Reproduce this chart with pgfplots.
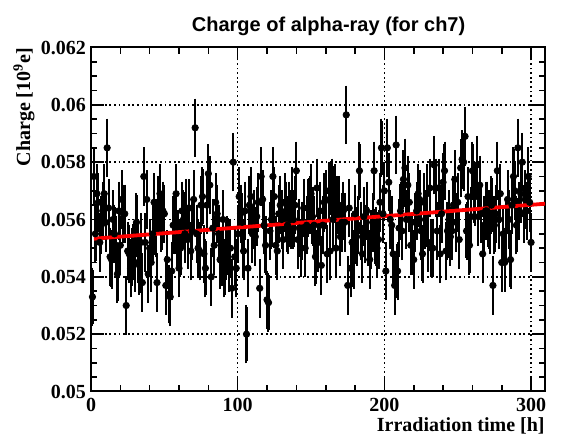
\documentclass[border=0pt]{standalone}
\usepackage{fontspec}
\setmainfont{Liberation Serif}
\newfontfamily\titlefont{Liberation Sans}
\usepackage{pgfplots}
\pgfplotsset{compat=1.18}
\usepackage{pgfplotstable}

% charge per hour of irradiation, ch7
\pgfplotstableread{
t q
1 0.0533
2 0.0575
3 0.0555
4 0.0569
5 0.0566
6 0.0552
7 0.0558
8 0.0563
9 0.0569
10 0.0559
11 0.0585
12 0.0564
13 0.0547
14 0.0546
15 0.0560
16 0.0555
17 0.0551
18 0.0541
19 0.0563
20 0.0551
21 0.0567
22 0.0562
23 0.0562
24 0.0530
25 0.0549
26 0.0548
27 0.0543
28 0.0547
29 0.0549
30 0.0545
31 0.0559
32 0.0548
33 0.0544
34 0.0552
35 0.0538
36 0.0575
37 0.0552
38 0.0567
39 0.0541
40 0.0550
41 0.0545
42 0.0555
43 0.0566
44 0.0557
45 0.0538
46 0.0565
47 0.0569
48 0.0559
49 0.0563
50 0.0562
51 0.0537
52 0.0546
53 0.0534
54 0.0533
55 0.0542
56 0.0558
57 0.0558
58 0.0569
59 0.0553
60 0.0543
61 0.0550
62 0.0563
63 0.0560
64 0.0555
65 0.0564
66 0.0553
67 0.0564
68 0.0549
69 0.0556
70 0.0567
71 0.0592
72 0.0555
73 0.0550
74 0.0549
75 0.0565
76 0.0568
77 0.0548
78 0.0543
79 0.0565
80 0.0576
81 0.0572
82 0.0540
83 0.0557
84 0.0551
85 0.0566
86 0.0562
87 0.0555
88 0.0546
89 0.0547
90 0.0560
91 0.0543
92 0.0549
93 0.0551
94 0.0545
95 0.0550
96 0.0536
97 0.0580
98 0.0547
99 0.0543
100 0.0555
101 0.0568
102 0.0562
103 0.0559
104 0.0549
105 0.0563
106 0.0520
107 0.0543
108 0.0565
109 0.0568
110 0.0555
111 0.0560
112 0.0554
113 0.0561
114 0.0566
115 0.0536
116 0.0575
117 0.0567
118 0.0558
119 0.0551
120 0.0532
121 0.0531
122 0.0556
123 0.0560
124 0.0575
125 0.0568
126 0.0551
127 0.0549
128 0.0562
129 0.0565
130 0.0560
131 0.0553
132 0.0566
133 0.0563
134 0.0558
135 0.0563
136 0.0560
137 0.0568
138 0.0560
139 0.0565
140 0.0577
141 0.0553
142 0.0557
143 0.0550
144 0.0556
145 0.0564
146 0.0550
147 0.0558
148 0.0564
149 0.0565
150 0.0569
151 0.0561
152 0.0558
153 0.0547
154 0.0571
155 0.0552
156 0.0563
157 0.0544
158 0.0558
159 0.0566
160 0.0567
161 0.0548
162 0.0570
163 0.0549
164 0.0571
165 0.0560
166 0.0569
167 0.0550
168 0.0565
169 0.0565
170 0.0554
171 0.0559
172 0.0563
173 0.0559
174 0.05965
175 0.0537
176 0.0564
177 0.0543
178 0.0552
179 0.0546
180 0.0562
181 0.0554
182 0.0558
183 0.0577
184 0.0556
185 0.0548
186 0.0561
187 0.0555
188 0.0563
189 0.0554
190 0.0546
191 0.0553
192 0.0559
193 0.0577
194 0.0554
195 0.0550
196 0.0553
197 0.0566
198 0.0585
199 0.0562
200 0.0570
201 0.0542
202 0.0585
203 0.0573
204 0.0560
205 0.0558
206 0.0548
207 0.0537
208 0.0586
209 0.0542
210 0.0557
211 0.0563
212 0.0556
213 0.0574
214 0.0578
215 0.0560
216 0.0572
217 0.0566
218 0.0551
219 0.0551
220 0.0546
221 0.0559
222 0.0563
223 0.0569
224 0.0567
225 0.0556
226 0.0548
227 0.0566
228 0.0560
229 0.0569
230 0.0552
231 0.0571
232 0.0550
233 0.0550
234 0.0579
235 0.0571
236 0.0556
237 0.0571
238 0.0548
239 0.0562
240 0.0573
241 0.0577
242 0.0549
243 0.0556
244 0.0560
245 0.0554
246 0.0556
247 0.0565
248 0.0574
249 0.0559
250 0.0566
251 0.0553
252 0.0578
253 0.0581
254 0.0580
255 0.0589
256 0.0556
257 0.0568
258 0.0551
259 0.0561
260 0.0577
261 0.0569
262 0.0568
263 0.0579
264 0.0561
265 0.0572
266 0.0562
267 0.0548
268 0.0558
269 0.0563
270 0.0563
271 0.0560
272 0.0558
273 0.0565
274 0.0537
275 0.0558
276 0.0562
277 0.0577
278 0.0560
279 0.0569
280 0.0545
281 0.0555
282 0.0545
283 0.0556
284 0.0567
285 0.0560
286 0.0546
287 0.0565
288 0.0575
289 0.0570
290 0.0558
291 0.0585
292 0.0563
293 0.0569
294 0.0580
295 0.0562
296 0.0567
297 0.0563
298 0.0575
299 0.0566
300 0.0552
}\chdata

\begin{document}
\begin{tikzpicture}
\begin{axis}[
    scale only axis,
    width=227pt, height=172pt,
    at={(0,0)}, anchor=south west,
    xmin=0, xmax=309.5,
    ymin=0.05, ymax=0.062,
    xtick={0,100,200,300},
    xticklabels={\textrm{0},\textrm{100},\textrm{200},\textrm{300}},
    minor x tick num=4,
    ytick={0.05,0.052,0.054,0.056,0.058,0.06,0.062},
    yticklabels={\textrm{0.05},\textrm{0.052},\textrm{0.054},\textrm{0.056},\textrm{0.058},\textrm{0.06},\textrm{0.062}},
    minor y tick num=3,
    scaled x ticks=false, scaled y ticks=false,
    tick align=inside, xtick pos=both, ytick pos=both,
    major tick length=6.5pt, minor tick length=3.2pt,
    tick style={black, line width=0.8pt},
    axis line style={line width=1pt},
    xmajorgrids, ymajorgrids,
    grid style={black, line width=0.7pt, dash pattern=on 0.9pt off 1.4pt},
    ticklabel style={font=\fontsize{10}{12}\selectfont\rmfamily\bfseries},
    yticklabel style={xshift=1pt},
]
\addplot[only marks, mark=*, mark size=1.6pt, black,
    error bars/.cd, y dir=both, y fixed=0.00095,
    error bar style={line width=1.1pt, black},
    error mark options={mark size=1pt, line width=1pt}]
    table[x=t, y=q] {\chdata};
\addplot[red, line width=1.9pt] coordinates {(2,0.05533) (309.5,0.05655)};
\end{axis}
\node[anchor=base, font=\titlefont\fontsize{10}{12}\selectfont\bfseries]
    at (118.8pt,179.75pt) {Charge of alpha-ray (for ch7)};
\node[anchor=base east, font=\fontsize{10}{12}\selectfont\bfseries, inner sep=0pt]
    at (227pt,-20.25pt) {Irradiation time [h]};
\node[rotate=90, anchor=base east, font=\fontsize{10}{12}\selectfont\bfseries, inner sep=0pt]
    at (-30.5pt,172pt) {Charge [10\textsuperscript{9}e]};
\pgfresetboundingbox
\path[use as bounding box] (-45.5pt,-22.75pt) rectangle (237.5pt,195.75pt);
\end{tikzpicture}
\end{document}
